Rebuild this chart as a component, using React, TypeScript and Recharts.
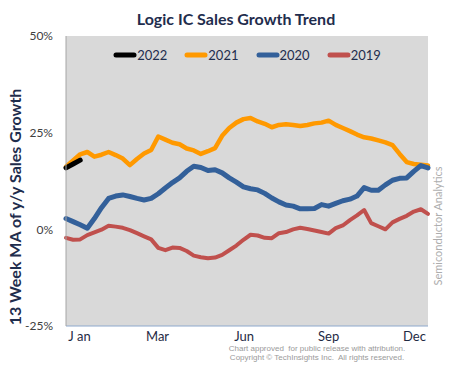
import { LineChart, Line, XAxis, YAxis, CartesianGrid, Legend } from "recharts";

// 13-week moving average of y/y growth, % (one value per week)
const growth2022 = [15.9, 16.9, 17.9];
const growth2021 = [
  16.2, 17.8, 19.4, 20.0, 18.8, 19.3, 20.0, 19.2, 18.3, 16.6,
  18.2, 19.6, 20.5, 24.0, 23.2, 22.4, 22.0, 20.9, 20.4, 19.5,
  20.2, 21.0, 24.2, 26.2, 27.6, 28.5, 28.8, 27.9, 27.3, 26.4,
  27.0, 27.2, 27.0, 26.7, 27.0, 27.4, 27.6, 28.1, 27.0, 26.2,
  25.4, 24.5, 23.8, 23.5, 23.0, 22.5, 21.8, 19.5, 17.4, 16.9,
  16.7, 16.5,
];
const growth2020 = [
  2.8, 2.0, 1.2, 0.3, 2.8, 5.6, 8.0, 8.6, 8.9, 8.5,
  8.0, 7.6, 8.0, 9.2, 10.7, 12.1, 13.3, 15.0, 16.3, 16.0,
  15.2, 15.4, 14.6, 13.3, 12.2, 11.0, 10.5, 10.2, 9.3, 8.1,
  7.1, 6.3, 6.0, 5.3, 5.3, 5.4, 6.4, 6.0, 6.7, 7.4,
  7.8, 8.6, 10.8, 10.1, 10.1, 11.5, 12.7, 13.2, 13.3, 15.0,
  16.5, 15.9,
];
const growth2019 = [
  -2.2, -2.7, -2.6, -1.5, -0.8, -0.1, 0.9, 0.7, 0.4, -0.2,
  -1.0, -1.8, -2.6, -4.8, -5.4, -4.7, -4.8, -5.6, -6.8, -7.2,
  -7.5, -7.3, -6.6, -5.4, -4.2, -2.7, -1.4, -1.6, -2.2, -2.3,
  -1.0, -0.7, 0.0, 0.4, 0.1, -0.3, -0.7, -1.1, 0.3, 1.0,
  2.4, 3.6, 5.0, 1.6, 0.8, 0.0, 1.8, 2.7, 3.5, 4.6,
  5.2, 4.0,
];

const monthTicks = [2.9, 13.9, 26.1, 38, 50.1];
const monthLabels = ["J an", "Mar", "Jun", "Sep", "Dec"];
const yTicks = [-25, 0, 25, 50];

const legendYears = ["2022", "2021", "2020", "2019"];
const COLORS: Record<string, string> = {
  "2022": "#000000",
  "2021": "#FF9900",
  "2020": "#33609A",
  "2019": "#C0504D",
};

const NAVY = "#1F2D4D";
const BORDER = "#8DA8CC";

const data = growth2021.map((v, i) => ({
  week: i + 1,
  y2022: growth2022[i],
  y2021: v,
  y2020: growth2020[i],
  y2019: growth2019[i],
}));

function LegendContent() {
  return (
    <div style={{ display: "flex", justifyContent: "center", gap: 17 }}>
      {legendYears.map((yr) => (
        <div key={yr} style={{ display: "flex", alignItems: "center" }}>
          <svg width={24} height={10}>
            <line x1={3} y1={5} x2={21} y2={5} stroke={COLORS[yr]} strokeWidth={5} strokeLinecap="round" />
          </svg>
          <span style={{ fontSize: 13, color: NAVY, fontFamily: "Lato" }}>{yr}</span>
        </div>
      ))}
    </div>
  );
}

export default function App() {
  return (
    <div style={{ position: "absolute", left: 0, top: 0, width: 452, height: 367, background: "#fff", fontFamily: "Lato" }}>
      <LineChart width={452} height={367} data={data} margin={{ top: 36, right: 24, left: 0, bottom: 0 }}>
        <CartesianGrid fill="#D9D9D9" horizontal={false} vertical={false} />
        <XAxis
          dataKey="week"
          type="number"
          domain={[1, 52]}
          ticks={monthTicks}
          tickFormatter={(v) => monthLabels[monthTicks.indexOf(v)] ?? ""}
          height={41}
          tickSize={0}
          tickMargin={6}
          axisLine={{ stroke: BORDER }}
          tick={{ fill: "#1F2A44", fontSize: 13, fontFamily: "Lato" }}
        />
        <XAxis xAxisId="top" orientation="top" dataKey="week" type="number" domain={[1, 52]} height={0} tick={false} tickLine={false} axisLine={{ stroke: BORDER }} />
        <YAxis
          domain={[-25, 50]}
          ticks={yTicks}
          tickFormatter={(v) => `${v}%`}
          width={66}
          tickSize={0}
          tickMargin={13}
          axisLine={{ stroke: "#A6A6A6" }}
          tick={{ fill: "#404040", fontSize: 12, fontFamily: "Lato" }}
        />
        <YAxis yAxisId="right" orientation="right" domain={[-25, 50]} width={0} tick={false} tickLine={false} axisLine={{ stroke: BORDER }} />
        <Legend verticalAlign="middle" content={LegendContent} wrapperStyle={{ top: 47, left: 66, width: 362 }} />
        <Line type="linear" dataKey="y2019" name="2019" stroke={COLORS["2019"]} strokeWidth={4} dot={false} isAnimationActive={false} strokeLinejoin="round" strokeLinecap="round" />
        <Line type="linear" dataKey="y2021" name="2021" stroke={COLORS["2021"]} strokeWidth={4.5} dot={false} isAnimationActive={false} strokeLinejoin="round" strokeLinecap="round" />
        <Line type="linear" dataKey="y2020" name="2020" stroke={COLORS["2020"]} strokeWidth={5} dot={false} isAnimationActive={false} strokeLinejoin="round" strokeLinecap="round" />
        <Line type="linear" dataKey="y2022" name="2022" stroke={COLORS["2022"]} strokeWidth={5} dot={false} isAnimationActive={false} strokeLinejoin="round" strokeLinecap="round" connectNulls={false} />
      </LineChart>
      <svg width={452} height={367} style={{ position: "absolute", left: 0, top: 0, pointerEvents: "none" }}>
        <text x={236} y={25} textAnchor="middle" fontSize={16} fontWeight={700} fill={NAVY} fontFamily="Lato">
          Logic IC Sales Growth Trend
        </text>
        <text transform="translate(21,207) rotate(-90)" textAnchor="middle" fontSize={16} fontWeight={700} fill={NAVY} fontFamily="Lato">
          13 Week MA of y/y Sales Growth
        </text>
        <text transform="translate(442,226) rotate(-90)" textAnchor="middle" fontSize={11} fill="#ADADAD" fontFamily="Lato">
          Semiconductor Analytics
        </text>
        <text x={317} y={351} textAnchor="middle" fontSize={8} fill="#9A9A9A" fontFamily="Liberation Sans" style={{ whiteSpace: "pre" }}>
          {"Chart approved  for public release with attribution."}
        </text>
        <text x={317} y={360} textAnchor="middle" fontSize={8} fill="#9A9A9A" fontFamily="Liberation Sans" style={{ whiteSpace: "pre" }}>
          {"Copyright © TechInsights Inc.  All rights reserved."}
        </text>
      </svg>
    </div>
  );
}
